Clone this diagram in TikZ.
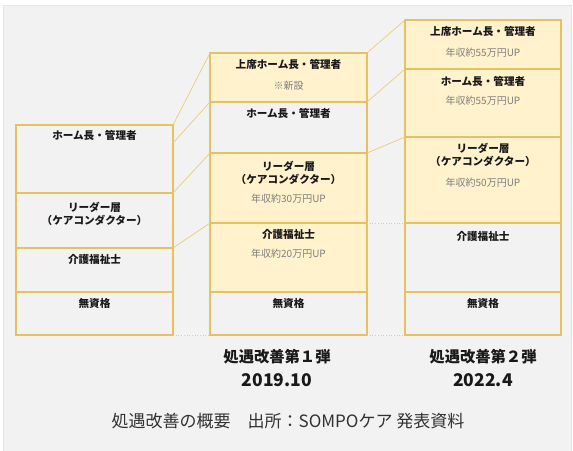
\documentclass[tikz,border=0pt]{standalone}
\usepackage{fontspec}
\setmainfont{Noto Sans CJK JP}
\usetikzlibrary{calc}
\definecolor{gold}{RGB}{230,193,95}
\definecolor{goldl}{RGB}{234,204,120}
\definecolor{cream}{RGB}{255,242,204}
\definecolor{panelgray}{RGB}{242,242,242}
\definecolor{paneledge}{RGB}{228,228,228}
\definecolor{txtgray}{RGB}{125,125,125}
\definecolor{ink}{RGB}{25,25,25}
\definecolor{capink}{RGB}{50,50,50}
\begin{document}
\begin{tikzpicture}[x=1pt,y=-1pt,
  box/.style={draw=gold, line width=1.2pt, anchor=north west, inner sep=0pt, outer sep=0pt},
  cbox/.style={box, fill=cream},
  gbox/.style={box, fill=panelgray},
  lbl/.style={font=\bfseries\fontsize{10.6}{12.5}\selectfont, text=ink, inner sep=0pt, align=center},
  sub/.style={font=\fontsize{10}{12}\selectfont, text=txtgray, inner sep=0pt},
  bigl/.style={font=\bfseries\fontsize{15.3}{17}\selectfont, text=ink, inner sep=0pt},
  bign/.style={font=\bfseries\fontsize{17.5}{19}\selectfont, text=ink, inner sep=0pt},
  capt/.style={font=\fontsize{17}{19}\selectfont, text=capink, inner sep=0pt},
  link/.style={draw=goldl, line width=0.7pt},
  dlink/.style={link, dotted}]
\useasboundingbox (0,0) rectangle (573,450);
\fill[white] (0,0) rectangle (573,450);
\draw[fill=panelgray, draw=paneledge, line width=0.6pt] (3,5) rectangle (571,452);

% column 1
\node[gbox, minimum width=157pt, minimum height=68pt] (a1) at (16,125) {};
\node[gbox, minimum width=157pt, minimum height=55pt] (a2) at (16,193) {};
\node[gbox, minimum width=157pt, minimum height=44pt] (a3) at (16,248) {};
\node[gbox, minimum width=157pt, minimum height=43pt] (a4) at (16,292) {};
% column 2
\node[cbox, minimum width=157pt, minimum height=49pt] (b1) at (210,53) {};
\node[gbox, minimum width=157pt, minimum height=51pt] (b2) at (210,102) {};
\node[cbox, minimum width=157pt, minimum height=70pt] (b3) at (210,153) {};
\node[cbox, minimum width=157pt, minimum height=69pt] (b4) at (210,223) {};
\node[gbox, minimum width=157pt, minimum height=43pt] (b5) at (210,292) {};
% column 3
\node[cbox, minimum width=156pt, minimum height=49pt] (c1) at (405,20) {};
\node[cbox, minimum width=156pt, minimum height=68pt] (c2) at (405,69) {};
\node[cbox, minimum width=156pt, minimum height=86pt] (c3) at (405,137) {};
\node[gbox, minimum width=156pt, minimum height=69pt] (c4) at (405,223) {};
\node[gbox, minimum width=156pt, minimum height=43pt] (c5) at (405,292) {};

% connectors
\coordinate (a1m) at ($(a1.north east)+(0,18)$);
\draw[link] (a1.north east) -- (b1.north west);
\draw[link] (a1m) -- (b2.north west);
\draw[link] (a2.north east) -- (b3.north west);
\draw[link] (a3.north east) -- (b4.north west);
\draw[dlink] (a4.south east) -- (b5.south west);
\draw[link] (b1.north east) -- (c1.north west);
\draw[link] (b2.north east) -- (c2.north west);
\draw[link] (b3.north east) -- (c3.north west);
\draw[dlink] (b4.north east) -- (c4.north west);
\draw[dlink] (b5.south east) -- (c5.south west);

% texts column 1
\node[lbl] (ta1) at (94.5,135) {ホーム長・管理者};
\node[lbl] (ta2) at (94.5,214) {リーダー層\\（ケアコンダクター）};
\node[lbl] (ta3) at (94.5,259) {介護福祉士};
\node[lbl] (ta4) at (94.5,303) {無資格};
% texts column 2
\node[lbl] (tb1) at (288.5,64) {上席ホーム長・管理者};
\node[sub] (sb1) at (288.5,86) {※新設};
\node[lbl] (tb2) at (288.5,113) {ホーム長・管理者};
\node[lbl] (tb3) at (288.5,173) {リーダー層\\（ケアコンダクター）};
\node[sub] (sb3) at (288.5,199) {年収約30万円UP};
\node[lbl] (tb4) at (288.5,234) {介護福祉士};
\node[sub] (sb4) at (288.5,254) {年収約20万円UP};
\node[lbl] (tb5) at (288.5,303) {無資格};
% texts column 3
\node[lbl] (tc1) at (483,31) {上席ホーム長・管理者};
\node[sub] (sc1) at (483,53) {年収約55万円UP};
\node[lbl] (tc2) at (483,81) {ホーム長・管理者};
\node[sub] (sc2) at (483,101) {年収約55万円UP};
\node[lbl] (tc3) at (483,155) {リーダー層\\（ケアコンダクター）};
\node[sub] (sc3) at (483,183) {年収約50万円UP};
\node[lbl] (tc4) at (483,236) {介護福祉士};
\node[lbl] (tc5) at (483,303) {無資格};

% bottom labels
\node[bigl] (l1a) at (277,357) {処遇改善第１弾};
\node[bign] (l1b) at (277,380) {2019.10};
\node[bigl] (l2a) at (483,357) {処遇改善第２弾};
\node[bign] (l2b) at (483,380) {2022.4};
\node[capt] (cap) at (288,421) {処遇改善の概要\quad 出所：SOMPOケア 発表資料};
\end{tikzpicture}
\end{document}
